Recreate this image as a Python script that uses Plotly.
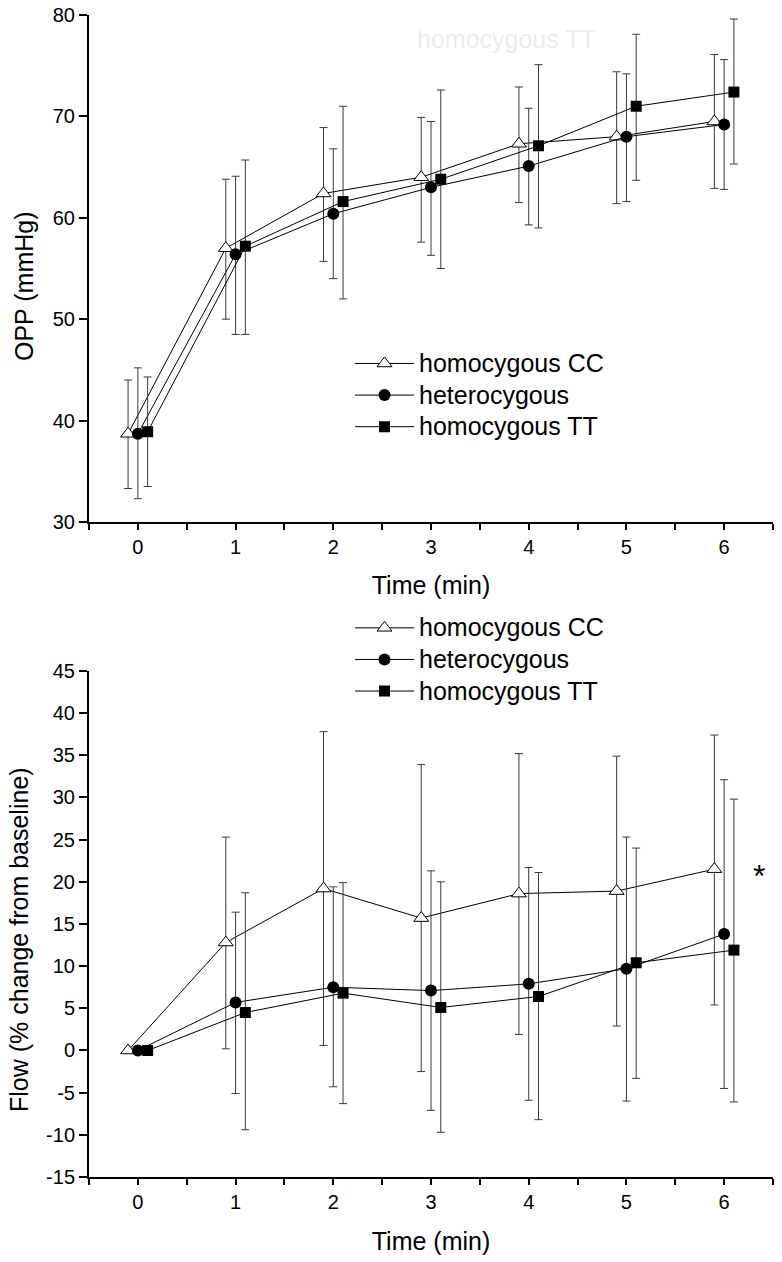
import plotly.graph_objects as go

# ---------------- data ----------------
times = [0, 1, 2, 3, 4, 5, 6]
group_names = ["homocygous CC", "heterocygous", "homocygous TT"]

# OPP (mmHg): means, upper and lower error-bar ends
opp_cc = [38.7, 57.0, 62.4, 64.0, 67.3, 68.0, 69.5]
opp_cc_hi = [44.0, 63.8, 68.9, 69.9, 72.9, 74.4, 76.1]
opp_cc_lo = [33.3, 50.0, 55.7, 57.6, 61.5, 61.4, 62.9]

opp_het = [38.7, 56.4, 60.4, 63.0, 65.1, 68.0, 69.2]
opp_het_hi = [45.2, 64.1, 66.8, 69.5, 70.8, 74.2, 75.6]
opp_het_lo = [32.3, 48.5, 54.0, 56.3, 59.3, 61.6, 62.8]

opp_tt = [38.9, 57.2, 61.6, 63.8, 67.1, 71.0, 72.4]
opp_tt_hi = [44.3, 65.7, 71.0, 72.6, 75.1, 78.1, 79.6]
opp_tt_lo = [33.5, 48.5, 52.0, 55.0, 59.0, 63.7, 65.3]

# Flow (% change from baseline)
flow_cc = [0.0, 12.8, 19.2, 15.7, 18.6, 18.9, 21.5]
flow_cc_hi = [0.0, 25.3, 37.8, 33.9, 35.2, 34.9, 37.4]
flow_cc_lo = [0.0, 0.2, 0.6, -2.5, 1.9, 2.9, 5.4]

flow_het = [0.0, 5.7, 7.5, 7.1, 7.9, 9.7, 13.8]
flow_het_hi = [0.0, 16.4, 19.4, 21.3, 21.7, 25.3, 32.1]
flow_het_lo = [0.0, -5.1, -4.3, -7.1, -5.9, -6.0, -4.5]

flow_tt = [0.0, 4.5, 6.8, 5.1, 6.4, 10.4, 11.9]
flow_tt_hi = [0.0, 18.7, 19.9, 20.0, 21.1, 24.0, 29.8]
flow_tt_lo = [0.0, -9.4, -6.3, -9.7, -8.2, -3.3, -6.1]

# tick values / labels
opp_ticks = [30, 40, 50, 60, 70, 80]
flow_ticks = [-15, -10, -5, 0, 5, 10, 15, 20, 25, 30, 35, 40, 45]
flow_tick_labels = ["-15", "-10", "-5", "0", "5", "10", "15", "20", "25", "30", "35", "40", "45"]

# ---------------- style ----------------
FONT = "Liberation Sans, Arial, sans-serif"
offsets = [-0.1, 0.0, 0.1]
markers = [
    dict(symbol="triangle-up", size=13, color="white", line=dict(color="black", width=1)),
    dict(symbol="circle", size=12, color="black", line=dict(color="black", width=0)),
    dict(symbol="square", size=11, color="black", line=dict(color="black", width=0)),
]

fig = go.Figure()


def add_group(vals, hi, lo, idx, xa, ya, legend):
    xs = [t + offsets[idx] for t in times]
    fig.add_trace(go.Scatter(
        x=xs, y=vals, xaxis=xa, yaxis=ya,
        name="<span style='font-size:25px'>" + group_names[idx] + "</span>",
        mode="lines+markers", legend=legend,
        line=dict(color="black", width=1),
        marker=markers[idx],
        error_y=dict(type="data", symmetric=False,
                     array=[h - v for h, v in zip(hi, vals)],
                     arrayminus=[v - l for v, l in zip(vals, lo)],
                     color="#3a3a3a", thickness=1, width=4),
    ))


add_group(opp_cc, opp_cc_hi, opp_cc_lo, 0, "x", "y", "legend")
add_group(opp_het, opp_het_hi, opp_het_lo, 1, "x", "y", "legend")
add_group(opp_tt, opp_tt_hi, opp_tt_lo, 2, "x", "y", "legend")
add_group(flow_cc, flow_cc_hi, flow_cc_lo, 0, "x2", "y2", "legend2")
add_group(flow_het, flow_het_hi, flow_het_lo, 1, "x2", "y2", "legend2")
add_group(flow_tt, flow_tt_hi, flow_tt_lo, 2, "x2", "y2", "legend2")

xaxis_common = dict(
    range=[-0.5, 6.5], tickmode="array", tickvals=times, ticktext=[str(t) for t in times],
    showline=True, linecolor="black", linewidth=2,
    ticks="outside", ticklen=6, tickwidth=2, tickcolor="black",
    minor=dict(ticks="outside", ticklen=6, tickwidth=2, tickcolor="black", dtick=0.5, tick0=0),
    showgrid=False, zeroline=False, automargin=False,
    tickfont=dict(size=20, color="black", family=FONT),
    title=dict(text="Time (min)", font=dict(size=25, color="black", family=FONT), standoff=20),
)
yaxis_common = dict(
    showline=True, linecolor="black", linewidth=2,
    ticks="outside", ticklen=8, tickwidth=2, tickcolor="black",
    showgrid=False, zeroline=False, automargin=False,
    tickfont=dict(size=20, color="black", family=FONT),
)

legend_common = dict(
    bgcolor="rgba(0,0,0,0)", font=dict(size=22, color="black", family=FONT),
    xanchor="left", yanchor="top", itemwidth=59, tracegroupgap=0,
    traceorder="normal", itemclick=False,
)

fig.update_layout(
    width=782, height=1262,
    margin=dict(l=89, r=9, t=15, b=85),
    paper_bgcolor="white", plot_bgcolor="white",
    font=dict(family=FONT, color="black"),
    xaxis=dict(domain=[0, 1], anchor="y", **xaxis_common),
    yaxis=dict(domain=[0.5637, 1.0], anchor="x", range=[30, 80], tickmode="array",
               tickvals=opp_ticks, ticktext=[str(v) for v in opp_ticks], **yaxis_common),
    xaxis2=dict(domain=[0, 1], anchor="y2", **xaxis_common),
    yaxis2=dict(domain=[0, 0.4355], anchor="x2", range=[-15, 45], tickmode="array",
                tickvals=flow_ticks, ticktext=flow_tick_labels, **yaxis_common),
    legend=dict(x=0.3816, y=0.718, **legend_common),
    legend2=dict(x=0.3816, y=0.4905, **legend_common),
    showlegend=True,
)

# y-axis titles
fig.add_annotation(xref="paper", yref="paper", x=-0.095, y=0.7668, xanchor="center", yanchor="middle",
                   text="OPP (mmHg)", textangle=-90, showarrow=False,
                   font=dict(size=25, color="black", family=FONT))
fig.add_annotation(xref="paper", yref="paper", x=-0.1023, y=0.204, xanchor="center", yanchor="middle",
                   text="Flow (% change from baseline)", textangle=-90, showarrow=False,
                   font=dict(size=25, color="black", family=FONT))

# faint ghost label near top of upper panel
fig.add_annotation(xref="paper", yref="paper", x=0.4766, y=0.979, xanchor="left", yanchor="middle",
                   text="homocygous TT", showarrow=False,
                   font=dict(size=25, color="#ececec", family=FONT))
# significance marker
fig.add_annotation(xref="x2", yref="y2", x=6.36, y=20.7, text="*", showarrow=False,
                   font=dict(size=32, color="black", family=FONT))

fig.write_html("out.html", config={"displayModeBar": False},
               post_script="document.body.style.margin='0px';")
